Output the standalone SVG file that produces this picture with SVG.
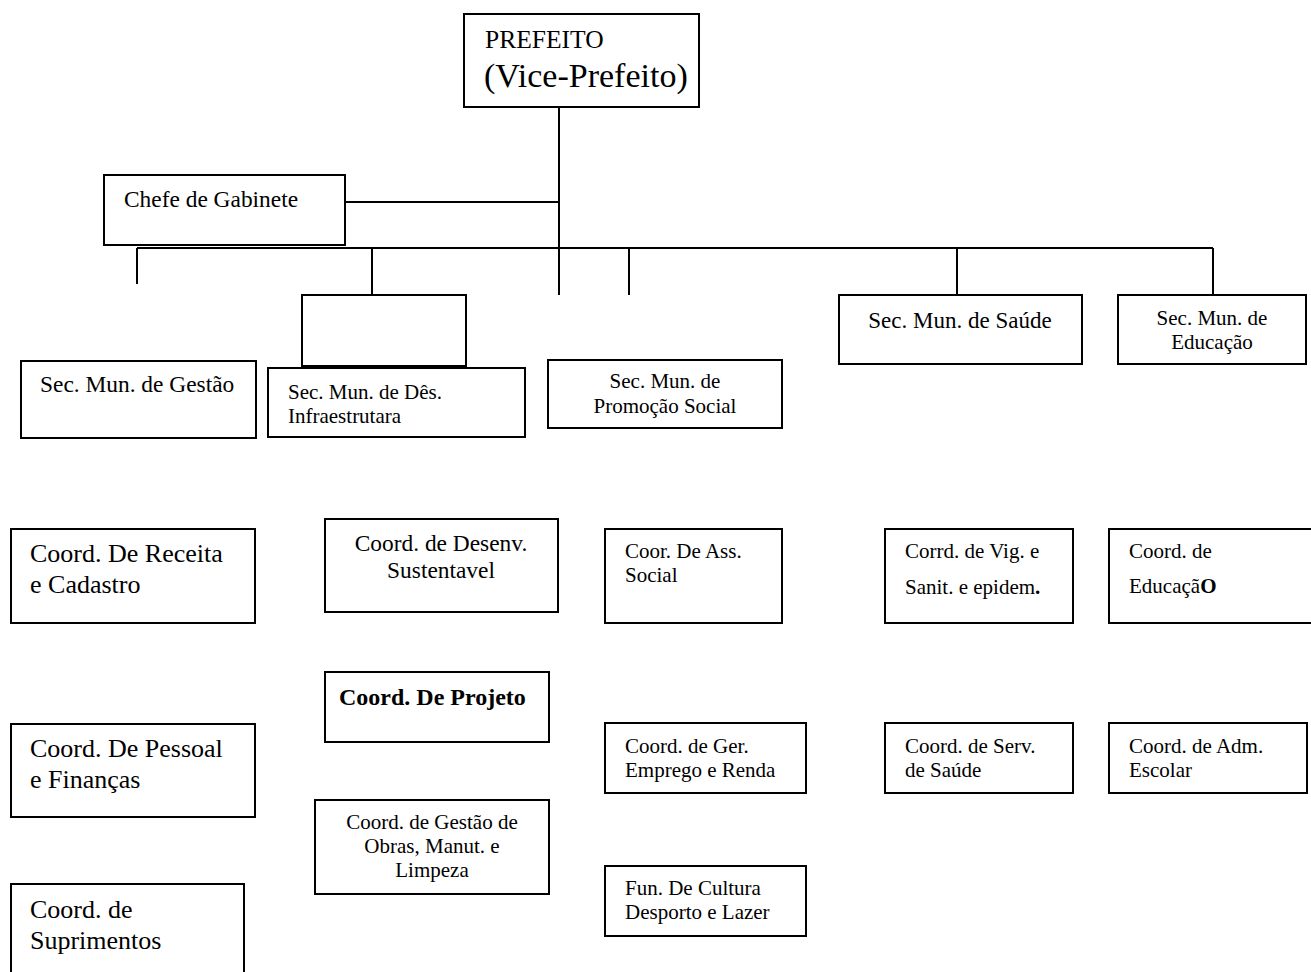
<svg xmlns="http://www.w3.org/2000/svg" width="1311" height="972" viewBox="0 0 1311 972">
<style>
rect{fill:#fff;stroke:#000;stroke-width:2}
.c line{stroke:#000;stroke-width:2}
text{font-family:"Liberation Serif","Times New Roman",serif;fill:#000}
.s15{font-size:21px}
.s17{font-size:23.4px}
.s20{font-size:26px}
.m{text-anchor:middle}
</style>
<rect x="0" y="0" width="1311" height="972" style="stroke:none"/>
<g class="c" id="connectors">
<line x1="559" y1="107" x2="559" y2="295"/>
<line x1="345" y1="202" x2="559" y2="202"/>
<line x1="137" y1="248" x2="1213" y2="248"/>
<line x1="137" y1="248" x2="137" y2="284"/>
<line x1="372" y1="248" x2="372" y2="295"/>
<line x1="629" y1="248" x2="629" y2="295"/>
<line x1="957" y1="248" x2="957" y2="295"/>
<line x1="1213" y1="248" x2="1213" y2="295"/>
</g>
<g id="prefeito"><rect x="464" y="14" width="235" height="93"/>
<text x="485" y="48" style="font-size:25.5px">PREFEITO</text>
<text x="484" y="87" style="font-size:34px">(Vice-Prefeito)</text></g>
<g id="chefe"><rect x="104" y="175" width="241" height="70"/><text x="124" y="207" class="s17">Chefe de Gabinete</text></g>
<g id="vazio"><rect x="302" y="295" width="164" height="71"/></g>
<g id="gestao"><rect x="21" y="361" width="235" height="77"/><text x="40" y="392" class="s17">Sec. Mun. de Gestão</text></g>
<g id="infra"><rect x="268" y="368" width="257" height="69"/><text x="288" y="399" class="s15">Sec. Mun. de Dês.</text><text x="288" y="423" class="s15">Infraestrutara</text></g>
<g id="promocao"><rect x="548" y="360" width="234" height="68"/><text x="665" y="388" class="s15 m">Sec. Mun. de</text><text x="665" y="413" class="s15 m">Promoção Social</text></g>
<g id="saude"><rect x="839" y="295" width="243" height="69"/><text x="960" y="328" class="m" style="font-size:23px">Sec. Mun. de Saúde</text></g>
<g id="educacao"><rect x="1118" y="295" width="188" height="69"/><text x="1212" y="325" class="s15 m">Sec. Mun. de</text><text x="1212" y="349" class="s15 m">Educação</text></g>
<g id="receita"><rect x="11" y="529" width="244" height="94"/><text x="30" y="562" class="s20">Coord. De Receita</text><text x="30" y="593" class="s20">e Cadastro</text></g>
<g id="desenv"><rect x="325" y="519" width="233" height="93"/><text x="441" y="551" class="s17 m">Coord. de Desenv.</text><text x="441" y="578" class="s17 m">Sustentavel</text></g>
<g id="ass"><rect x="605" y="529" width="177" height="94"/><text x="625" y="558" class="s15">Coor. De Ass.</text><text x="625" y="582" class="s15">Social</text></g>
<g id="vig"><rect x="885" y="529" width="188" height="94"/><text x="905" y="558" class="s15">Corrd. de Vig. e</text><text x="905" y="594" class="s15">Sanit.  e epidem<tspan font-weight="bold">.</tspan></text></g>
<g id="coordedu"><rect x="1109" y="529" width="203" height="94"/><text x="1129" y="558" class="s15">Coord. de</text><text x="1129" y="593" class="s15">Educaçã<tspan font-weight="bold">O</tspan></text></g>
<g id="projeto"><rect x="325" y="672" width="224" height="70"/><text x="339" y="705" style="font-size:24px" font-weight="bold">Coord. De  Projeto</text></g>
<g id="pessoal"><rect x="11" y="724" width="244" height="93"/><text x="30" y="757" class="s20">Coord. De Pessoal</text><text x="30" y="788" class="s20">e Finanças</text></g>
<g id="obras"><rect x="315" y="800" width="234" height="94"/><text x="432" y="829" class="s15 m">Coord. de Gestão de</text><text x="432" y="853" class="s15 m">Obras,  Manut. e</text><text x="432" y="877" class="s15 m">Limpeza</text></g>
<g id="suprimentos"><rect x="11" y="884" width="233" height="95"/><text x="30" y="918" class="s20">Coord. de</text><text x="30" y="949" class="s20">Suprimentos</text></g>
<g id="emprego"><rect x="605" y="723" width="201" height="70"/><text x="625" y="753" class="s15">Coord. de Ger.</text><text x="625" y="777" class="s15">Emprego e Renda</text></g>
<g id="servsaude"><rect x="885" y="723" width="188" height="70"/><text x="905" y="753" class="s15">Coord. de Serv.</text><text x="905" y="777" class="s15">de  Saúde</text></g>
<g id="adm"><rect x="1109" y="723" width="198" height="70"/><text x="1129" y="753" class="s15">Coord. de  Adm.</text><text x="1129" y="777" class="s15">Escolar</text></g>
<g id="cultura"><rect x="605" y="866" width="201" height="70"/><text x="625" y="895" class="s15">Fun. De Cultura</text><text x="625" y="919" class="s15">Desporto e Lazer</text></g>
</svg>
